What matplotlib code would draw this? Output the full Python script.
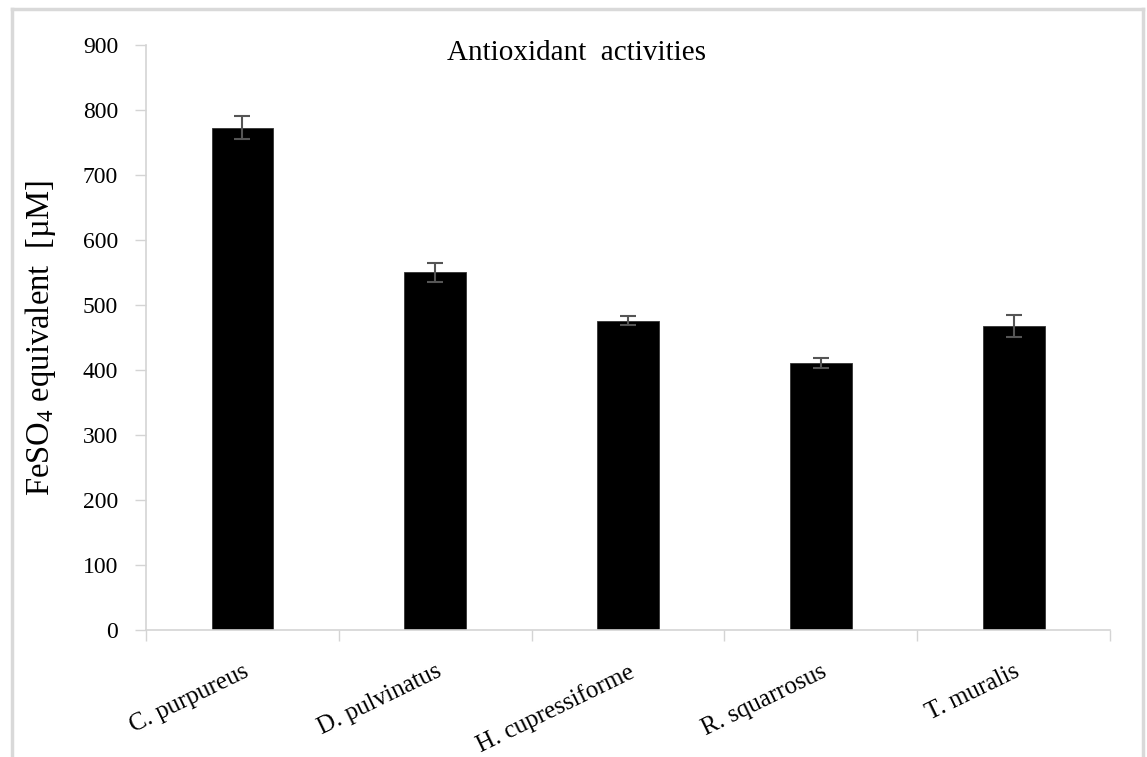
"""Antioxidant activities (FeSO4 equivalent) of five moss species."""

import matplotlib.pyplot as plt
from matplotlib.lines import Line2D
import numpy as np

# ── Data ───────────────────────────────────────────────────────────────── #

species = ["C. purpureus", "D. pulvinatus", "H. cupressiforme",
           "R. squarrosus", "T. muralis"]
feso4_uM = [773, 550, 476, 411, 468]
feso4_err = [17, 14, 7, 8, 17]
y_ticks = [0, 100, 200, 300, 400, 500, 600, 700, 800, 900]

AXIS_GREY = "#d4d4d4"
SERIF = ["Liberation Serif", "DejaVu Serif"]

plt.rcParams["font.family"] = SERIF
plt.rcParams["mathtext.fontset"] = "custom"
plt.rcParams["mathtext.rm"] = "Liberation Serif"
plt.rcParams["mathtext.it"] = "Liberation Serif:italic"

fig = plt.figure(figsize=(11.47, 7.57), dpi=100)
ax = fig.add_axes([0.1273, 0.1678, 0.8405, 0.7728])

x = np.arange(len(species))
ax.bar(x, feso4_uM, width=0.32, color="black", edgecolor="#333333",
       linewidth=0.6, zorder=2)
ax.errorbar(x, feso4_uM, yerr=feso4_err, fmt="none", ecolor="#555555",
            elinewidth=1.5, capsize=6, capthick=1.5, zorder=3)

ax.set_xlim(-0.5, len(species) - 0.5)
ax.set_ylim(0, 900)
ax.set_yticks(y_ticks)
ax.tick_params(axis="y", direction="out", length=8, width=1,
               color=AXIS_GREY, labelsize=17, pad=12)

# Category labels at the bar centres, tick marks at the category borders.
ax.set_xticks(x)
ax.set_xticklabels(species, rotation=26, ha="right", va="top",
                   rotation_mode="anchor", fontsize=18)
ax.tick_params(axis="x", which="major", length=0, pad=22)
ax.set_xticks(np.arange(-0.5, len(species)), minor=True)
ax.tick_params(axis="x", which="minor", direction="out", length=8,
               width=1, color=AXIS_GREY)

for side in ("top", "right"):
    ax.spines[side].set_visible(False)
for side in ("left", "bottom"):
    ax.spines[side].set_color(AXIS_GREY)
    ax.spines[side].set_linewidth(1.2)

ax.set_ylabel(r"FeSO$_4$ equivalent  [µM]", fontsize=23.5, labelpad=18)

fig.text(0.503, 0.930, "Antioxidant  activities", ha="center",
         va="center", fontsize=21)

# Light grey frame around the chart area (open at the bottom edge).
frame = dict(color="#d9d9d9", linewidth=2.5, transform=fig.transFigure)
fig.add_artist(Line2D([0.0105, 0.0105], [0.0, 0.988], **frame))
fig.add_artist(Line2D([0.0105, 0.9965], [0.988, 0.988], **frame))
fig.add_artist(Line2D([0.9965, 0.9965], [0.0, 0.988], **frame))

fig.savefig("out.png", dpi=100)
